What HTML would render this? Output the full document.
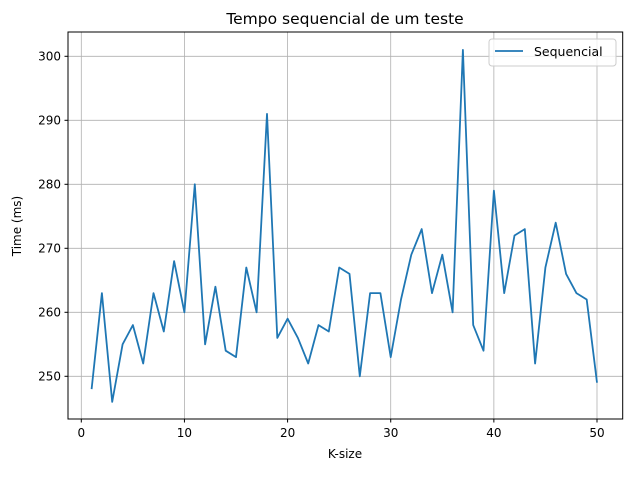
<!DOCTYPE html>
<html><head><meta charset="utf-8"><style>
body{margin:0;background:#fff;}
text{font-family:"DejaVu Sans","Liberation Sans",sans-serif;}
</style></head><body>
<svg id="chart" width="632" height="472" xmlns="http://www.w3.org/2000/svg">
<rect width="632" height="472" fill="#fff"/>
<g id="grid"></g>
<path id="line" fill="none" stroke="#1f77b4" stroke-width="1.8" stroke-linejoin="round"/>
<rect x="68" y="32" width="554.7" height="387" fill="none" stroke="#000" stroke-width="1"/>
<g id="ticks"></g>
<text x="345" y="24" text-anchor="middle" font-size="15.5">Tempo sequencial de um teste</text>
<text x="345" y="458" text-anchor="middle" font-size="12">K-size</text>
<text x="0" y="0" transform="translate(21,226) rotate(-90)" text-anchor="middle" font-size="12">Time (ms)</text>
<g>
<rect x="489" y="39" width="127" height="27" rx="3" fill="#fff" fill-opacity="0.8" stroke="#ccc"/>
<line x1="495" y1="51" x2="523" y2="51" stroke="#1f77b4" stroke-width="1.8"/>
<text x="534" y="56" font-size="12.5">Sequencial</text>
</g>
</svg>
<script>
const kValues=[1,2,3,4,5,6,7,8,9,10,11,12,13,14,15,16,17,18,19,20,21,22,23,24,25,26,27,28,29,30,31,32,33,34,35,36,37,38,39,40,41,42,43,44,45,46,47,48,49,50];
const times=[248,263,246,255,258,252,263,257,268,260,280,255,264,254,253,267,260,291,256,259,256,252,258,257,267,266,250,263,263,253,262,269,273,263,269,260,301,258,254,279,263,272,273,252,267,274,266,263,262,249];
const xTicks=[0,10,20,30,40,50];
const yTicks=[250,260,270,280,290,300];
const X=v=>81.3+(v)*10.314;
const Y=v=>376.3-(v-250)*6.4;
const NS="http://www.w3.org/2000/svg";
const grid=document.getElementById('grid'),ticks=document.getElementById('ticks');
function mk(tag,attrs,parent){const e=document.createElementNS(NS,tag);for(const k in attrs)e.setAttribute(k,attrs[k]);parent.appendChild(e);return e;}
xTicks.forEach(t=>{
 const g=mk('line',{x1:X(t),x2:X(t),y1:32,y2:419,stroke:'#b0b0b0','stroke-width':0.8},grid);
 
 
 mk('line',{x1:X(t),x2:X(t),y1:419,y2:422.5,stroke:'#000'},ticks);
 const tx=mk('text',{x:X(t),y:437,'text-anchor':'middle','font-size':12},ticks);
 tx.textContent=t;
 
 
});
yTicks.forEach(t=>{
 const g=mk('line',{x1:68,x2:622.7,y1:Y(t),y2:Y(t),stroke:'#b0b0b0','stroke-width':0.8},grid);
 
 
 mk('line',{x1:64.5,x2:68,y1:Y(t),y2:Y(t),stroke:'#000'},ticks);
 const tx=mk('text',{x:61,y:Y(t)+4,'text-anchor':'end','font-size':12},ticks);
 tx.textContent=t;
 
 
});
document.getElementById('line').setAttribute('d',kValues.map((k,i)=>(i?'L':'M')+X(k).toFixed(1)+','+Y(times[i]).toFixed(1)).join(' '));
</script>
</body></html>
